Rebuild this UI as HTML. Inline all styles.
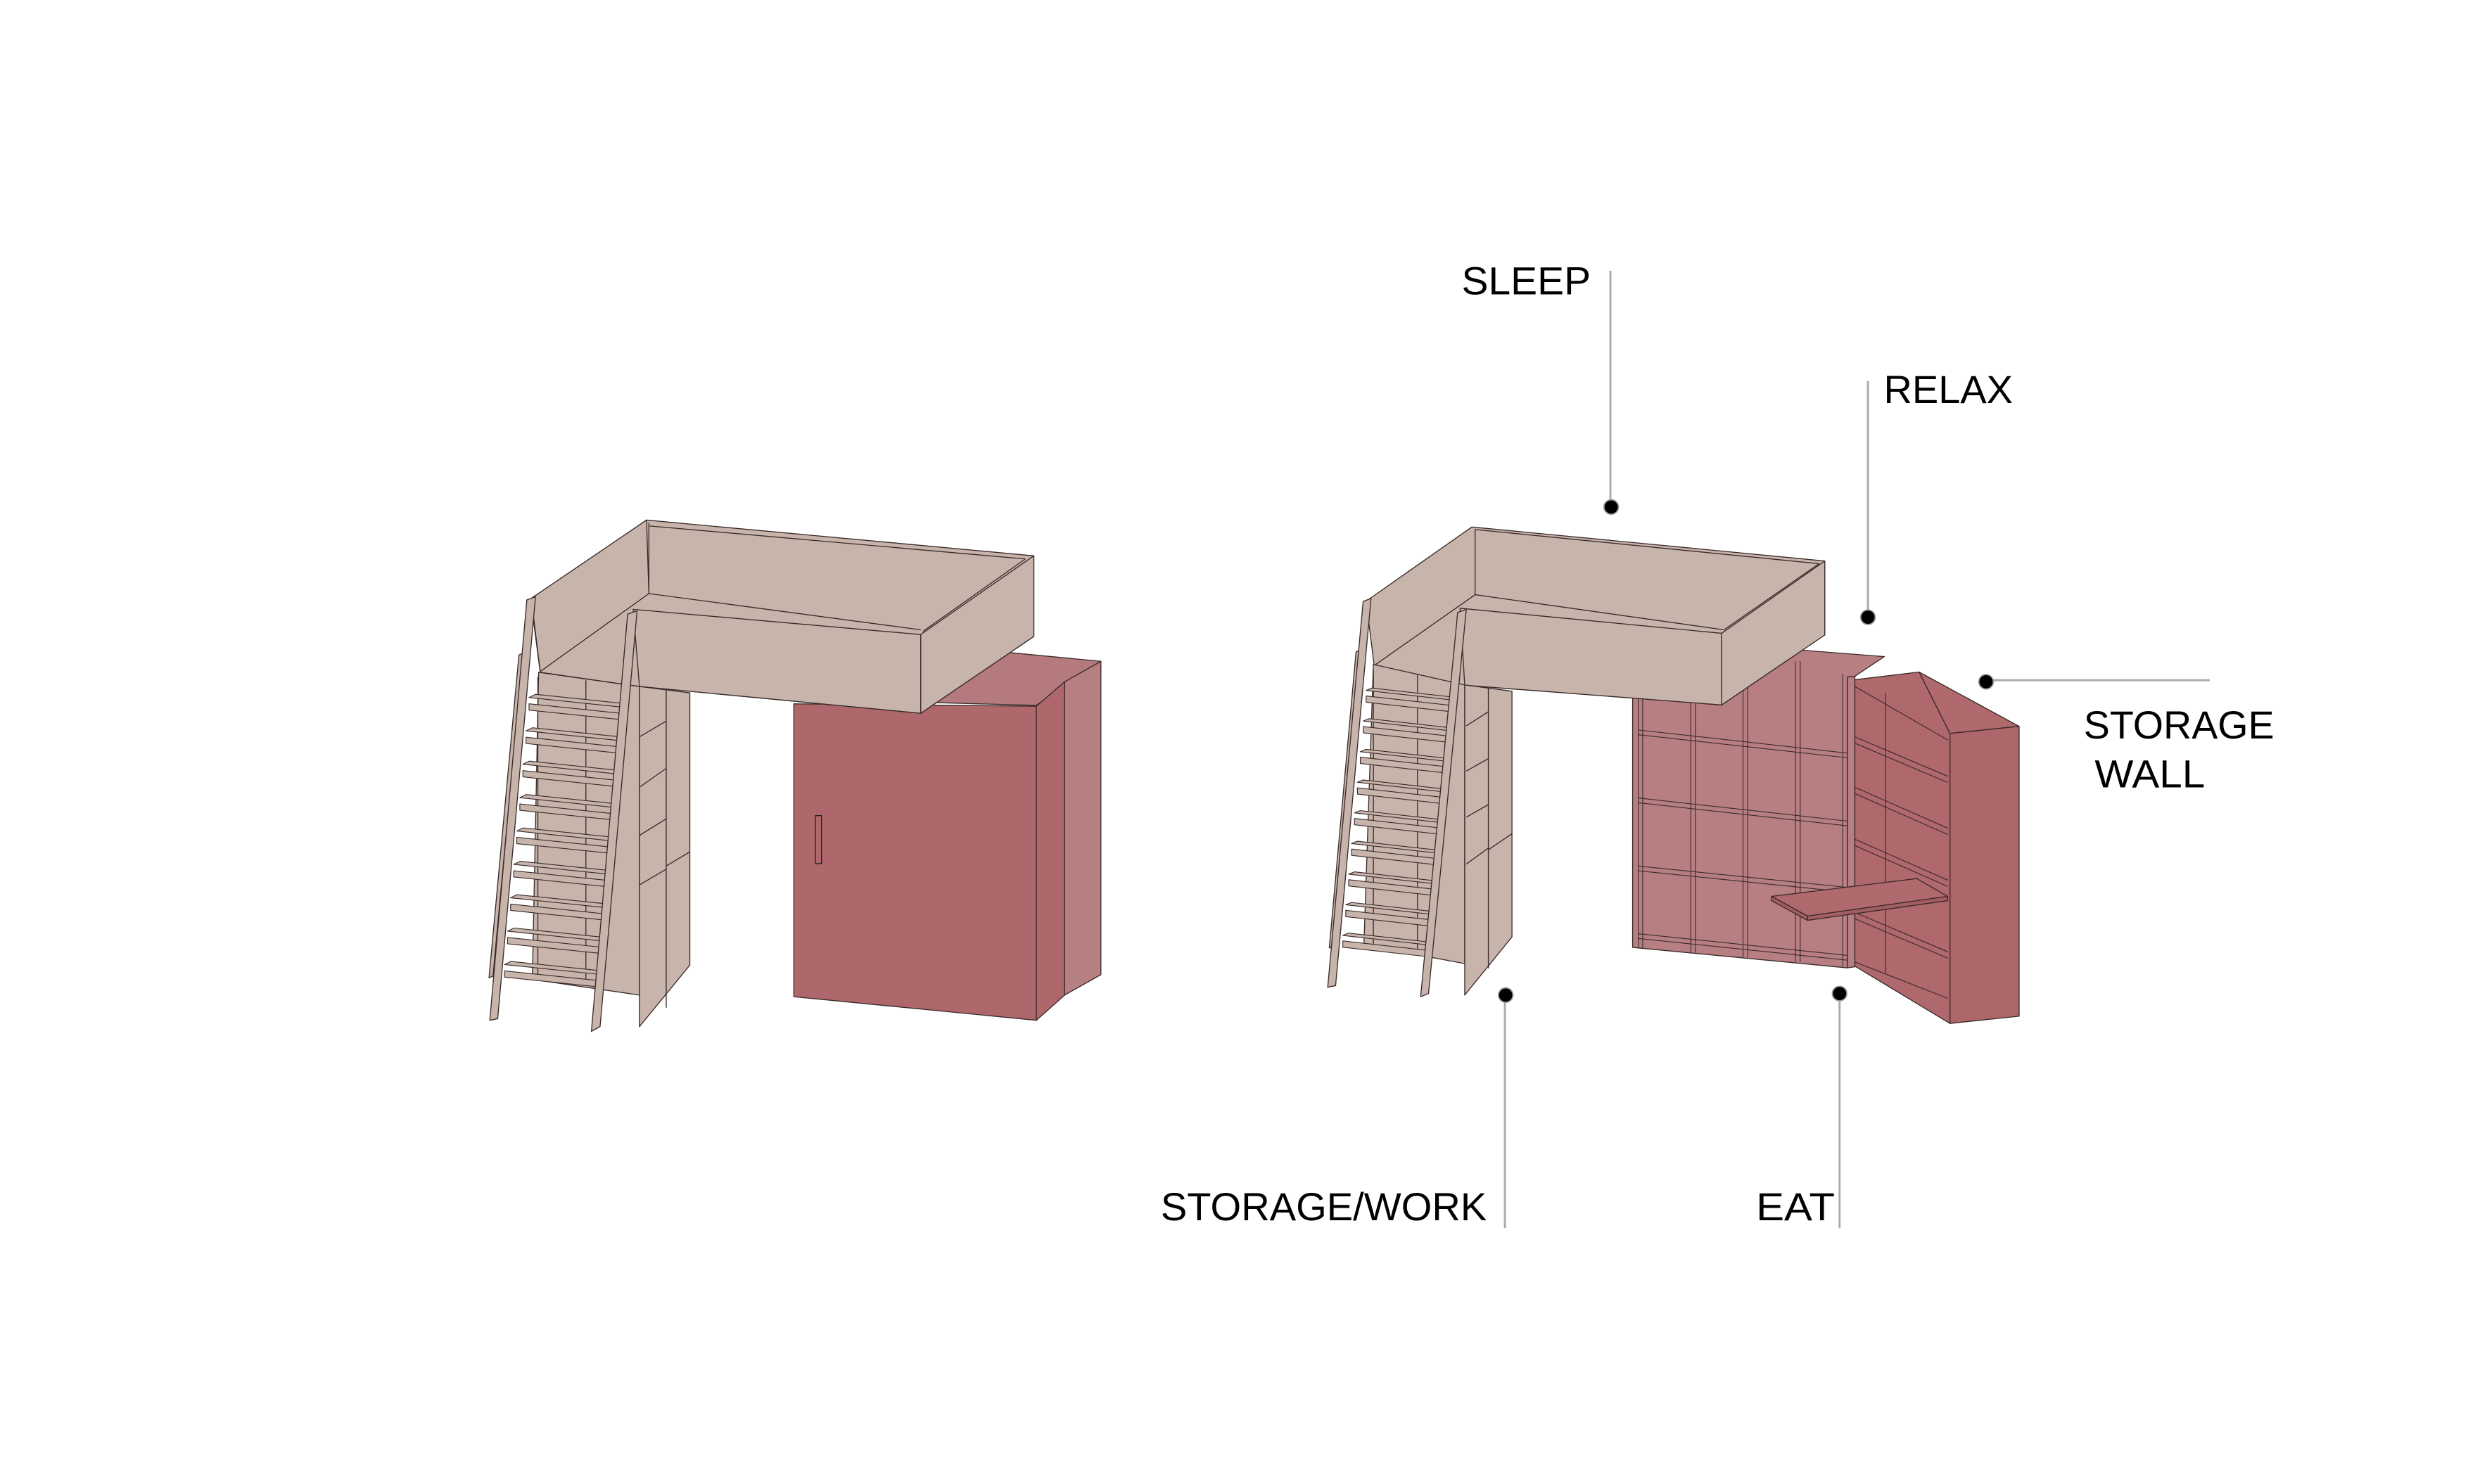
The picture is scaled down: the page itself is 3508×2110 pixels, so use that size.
<!DOCTYPE html>
<html><head><meta charset="utf-8"><style>html,body{margin:0;padding:0;background:#fff}svg{display:block}</style></head>
<body>
<svg width="3508" height="2110" viewBox="0 0 1567 942.5" preserveAspectRatio="none" xmlns="http://www.w3.org/2000/svg">
<defs>
<g id="stepL"><polygon points="335.9,443 340,441 398,447 394,449" fill="#c7b5ab" stroke="#3a2a2a" stroke-width="0.5"/><polygon points="335.9,447 394,453 394,457 335.9,451" fill="#c7b5ab" stroke="#3a2a2a" stroke-width="0.5"/></g>
<g id="stepR"><polygon points="867.4,438.5 871,437 925,443 921.4,444.5" fill="#c7b5ab" stroke="#3a2a2a" stroke-width="0.5"/><polygon points="867.4,442 921.4,448 921.4,452 867.4,446" fill="#c7b5ab" stroke="#3a2a2a" stroke-width="0.5"/></g>
</defs>
<rect width="1567" height="942.5" fill="#fff"/>
<g stroke="#3a2a2a" stroke-width="0.6" stroke-linejoin="round">
<!-- LEFT wardrobe -->
<polygon points="584.6,446 636,414 699,420 658,448" fill="#b47a7d"/>
<polygon points="504,447 658,448.5 658,648 504,633" fill="#ae676a"/>
<polygon points="658,448.5 676,433 676,632 658,648" fill="#ae686b"/>
<polygon points="676,433 699,420 699,619 676,632" fill="#b67f82"/>
<rect x="517.7" y="518" width="3.9" height="30.5" fill="#ae676a" stroke="#222"/>
<!-- LEFT bed -->
<polygon points="337,381 410.5,330.3 656.4,353 656.4,404.2 584.6,453 406,436 343,427" fill="#c7b5ab"/>
<polygon points="337.3,380 410.5,330.3 412,377 343,426.5" fill="#c7b5ab"/>
<line x1="412" y1="332" x2="412" y2="377"/>
<line x1="412" y1="377" x2="584.6" y2="400"/>
<line x1="651" y1="355" x2="586" y2="401"/>
<line x1="412" y1="334" x2="651" y2="355"/>
<polygon points="402,387 584.6,403 584.6,453 406,436" fill="#c7b5ab"/>
<polygon points="584.6,403 656.4,353 656.4,404.2 584.6,453" fill="#c7b5ab"/>
<!-- left under-bed back and cabinet -->
<polygon points="342,427 406,436 406,632 338,622" fill="#c7b5ab"/>
<line x1="341.5" y1="430" x2="341.5" y2="620"/>
<line x1="372" y1="432" x2="372" y2="625"/>
<polygon points="406,436 438,440 438,613 406,652" fill="#c7b5ab"/>
<line x1="423" y1="438" x2="423" y2="640"/>
<line x1="406" y1="468" x2="423" y2="458"/><line x1="406" y1="500" x2="423" y2="488"/>
<line x1="406" y1="530.6" x2="423" y2="520"/><line x1="406" y1="562" x2="423" y2="552"/>
<line x1="423" y1="550" x2="438" y2="541"/>
<!-- left ladder -->
<polygon points="329.5,416 332,415 313,620 310.5,621" fill="#c7b5ab"/>
<polygon points="334.5,381 340,379 316,647 311,648" fill="#c7b5ab"/>
<use href="#stepL"/>
<use href="#stepL" transform="translate(-1.95,21.2)"/>
<use href="#stepL" transform="translate(-3.9,42.4)"/>
<use href="#stepL" transform="translate(-5.85,63.6)"/>
<use href="#stepL" transform="translate(-7.8,84.8)"/>
<use href="#stepL" transform="translate(-9.75,106)"/>
<use href="#stepL" transform="translate(-11.7,127.2)"/>
<use href="#stepL" transform="translate(-13.65,148.4)"/>
<use href="#stepL" transform="translate(-15.6,169.6)"/>
<polygon points="398.5,390 404.5,388 381,652 375.5,655" fill="#c7b5ab"/>

<!-- RIGHT bookcase wall -->
<polygon points="1036.6,442 1137,412.4 1196.4,417 1177.7,429.5 1173,430 1173,614.7 1036.6,601.7" fill="#b87f83"/>
<g fill="none" stroke-width="0.5">
<line x1="1040.2" y1="440" x2="1040.2" y2="602"/><line x1="1043" y1="440" x2="1043" y2="602"/>
<line x1="1073.5" y1="440" x2="1073.5" y2="605"/><line x1="1076.5" y1="440" x2="1076.5" y2="605"/>
<line x1="1106.7" y1="430" x2="1106.7" y2="608"/><line x1="1109.7" y1="430" x2="1109.7" y2="608"/>
<line x1="1140" y1="420" x2="1140" y2="611"/><line x1="1143" y1="420" x2="1143" y2="611"/>
<line x1="1170" y1="428" x2="1170" y2="614"/>
<line x1="1040" y1="463.6" x2="1173" y2="478.3"/><line x1="1040" y1="466.6" x2="1173" y2="481.3"/>
<line x1="1040" y1="506.8" x2="1173" y2="521.5"/><line x1="1040" y1="509.8" x2="1173" y2="524.5"/>
<line x1="1040" y1="550" x2="1173" y2="563.6"/><line x1="1040" y1="553" x2="1173" y2="566.6"/>
<line x1="1040" y1="593" x2="1173" y2="606.8"/><line x1="1040" y1="596" x2="1173" y2="609.8"/>
</g>
<polygon points="1173,430 1177.7,429.5 1177.7,614 1173,614.7" fill="#b87f83"/>
<!-- door bookcase -->
<polygon points="1177.7,431.7 1218.5,426.8 1238.1,465.8 1238.1,650 1177.7,613.6" fill="#af686b"/>
<polygon points="1218.5,426.8 1282,461.3 1238.1,465.8" fill="#b06a6d"/>
<polygon points="1238.1,465.8 1282,461.3 1282,645.4 1238.1,650" fill="#ad6669"/>
<g stroke-width="0.5">
<line x1="1177.7" y1="436" x2="1236.7" y2="470"/>
<line x1="1177.7" y1="468" x2="1236.7" y2="493"/><line x1="1177.7" y1="472" x2="1236.7" y2="497"/>
<line x1="1177.7" y1="500" x2="1236.7" y2="526"/><line x1="1177.7" y1="504" x2="1236.7" y2="530"/>
<line x1="1177.7" y1="533" x2="1236.7" y2="559"/><line x1="1177.7" y1="537" x2="1236.7" y2="563"/>
<line x1="1177.7" y1="579.5" x2="1236.7" y2="604.5"/><line x1="1177.7" y1="583.5" x2="1236.7" y2="608.5"/>
<line x1="1177.7" y1="611" x2="1236.7" y2="634"/>
<line x1="1197.3" y1="440" x2="1197.3" y2="618"/>
</g>
<polygon points="1124.8,569.3 1217,558 1236.6,569.3 1147.6,581.8" fill="#b06a6d"/>
<polygon points="1124.8,569.3 1147.6,581.8 1147.6,584.5 1124.8,572" fill="#a45e61"/>
<polygon points="1147.6,581.8 1236.6,569.3 1236.6,572 1147.6,584.5" fill="#a45e61"/>

<!-- RIGHT bed -->
<polygon points="867.4,381.8 934.5,334.7 1158.6,356.3 1158.6,403.3 1093.1,447.7 930,435.2 872.5,422.7" fill="#c7b5ab"/>
<line x1="936.6" y1="336.3" x2="936.6" y2="377.7"/>
<line x1="936.6" y1="377.7" x2="1094.6" y2="400"/>
<line x1="1155" y1="358" x2="1094.6" y2="400"/>
<line x1="936.6" y1="336.3" x2="1155" y2="358"/>
<line x1="872.5" y1="422.7" x2="936.6" y2="377.7"/>
<polygon points="927,386.3 1093.1,402.2 1093.1,447.7 930,435.2" fill="#c7b5ab"/>
<polygon points="1093.1,402.2 1158.6,356.3 1158.6,403.3 1093.1,447.7" fill="#c7b5ab"/>
<!-- right under-bed -->
<polygon points="872,422 930,435 930,612 866,600" fill="#c7b5ab"/>
<line x1="872" y1="425" x2="872" y2="600"/>
<line x1="900" y1="428" x2="900" y2="605"/>
<polygon points="930,435 960,439 960,595 930,632" fill="#c7b5ab"/>
<line x1="945" y1="437" x2="945" y2="615"/>
<line x1="931" y1="461" x2="945" y2="452"/><line x1="931" y1="489.7" x2="945" y2="481.8"/>
<line x1="931" y1="519" x2="945" y2="511"/><line x1="931" y1="548.8" x2="945" y2="538.6"/>
<line x1="945" y1="539.7" x2="960" y2="529.5"/>
<!-- right ladder -->
<polygon points="861,414 863.5,413 846.5,601 844,602" fill="#c7b5ab"/>
<polygon points="865.5,382 870.5,380 848,626 843,627" fill="#c7b5ab"/>
<use href="#stepR"/>
<use href="#stepR" transform="translate(-1.85,19.45)"/>
<use href="#stepR" transform="translate(-3.7,38.9)"/>
<use href="#stepR" transform="translate(-5.55,58.35)"/>
<use href="#stepR" transform="translate(-7.4,77.8)"/>
<use href="#stepR" transform="translate(-9.25,97.25)"/>
<use href="#stepR" transform="translate(-11.1,116.7)"/>
<use href="#stepR" transform="translate(-12.95,136.15)"/>
<use href="#stepR" transform="translate(-14.8,155.6)"/>
<polygon points="925.5,389 931,387 907,631 902,633" fill="#c7b5ab"/>
</g>

<!-- labels -->
<g stroke="#aaa" stroke-width="1.3" fill="none">
<line x1="1022.5" y1="172" x2="1022.5" y2="320"/>
<line x1="1186" y1="242" x2="1186" y2="390"/>
<line x1="1262" y1="432" x2="1403" y2="432"/>
<line x1="955.5" y1="633" x2="955.5" y2="780"/>
<line x1="1168" y1="633" x2="1168" y2="780"/>
</g>
<g fill="#000" stroke="#999" stroke-width="0.8">
<circle cx="1023" cy="322" r="4.6"/>
<circle cx="1186" cy="392" r="4.6"/>
<circle cx="1261" cy="433" r="4.6"/>
<circle cx="956" cy="632" r="4.6"/>
<circle cx="1168" cy="631" r="4.6"/>
</g>
<g font-family="Liberation Sans, Arial, sans-serif" font-size="25" fill="#000">
<text x="928" y="187" textLength="82" lengthAdjust="spacingAndGlyphs">SLEEP</text>
<text x="1196" y="256" textLength="82" lengthAdjust="spacingAndGlyphs">RELAX</text>
<text x="1323" y="469" textLength="121" lengthAdjust="spacingAndGlyphs">STORAGE</text>
<text x="1330" y="500" textLength="70" lengthAdjust="spacingAndGlyphs">WALL</text>
<text x="737" y="775" textLength="207" lengthAdjust="spacingAndGlyphs">STORAGE/WORK</text>
<text x="1115" y="775" textLength="50" lengthAdjust="spacingAndGlyphs">EAT</text>
</g>
</svg>
</body></html>
